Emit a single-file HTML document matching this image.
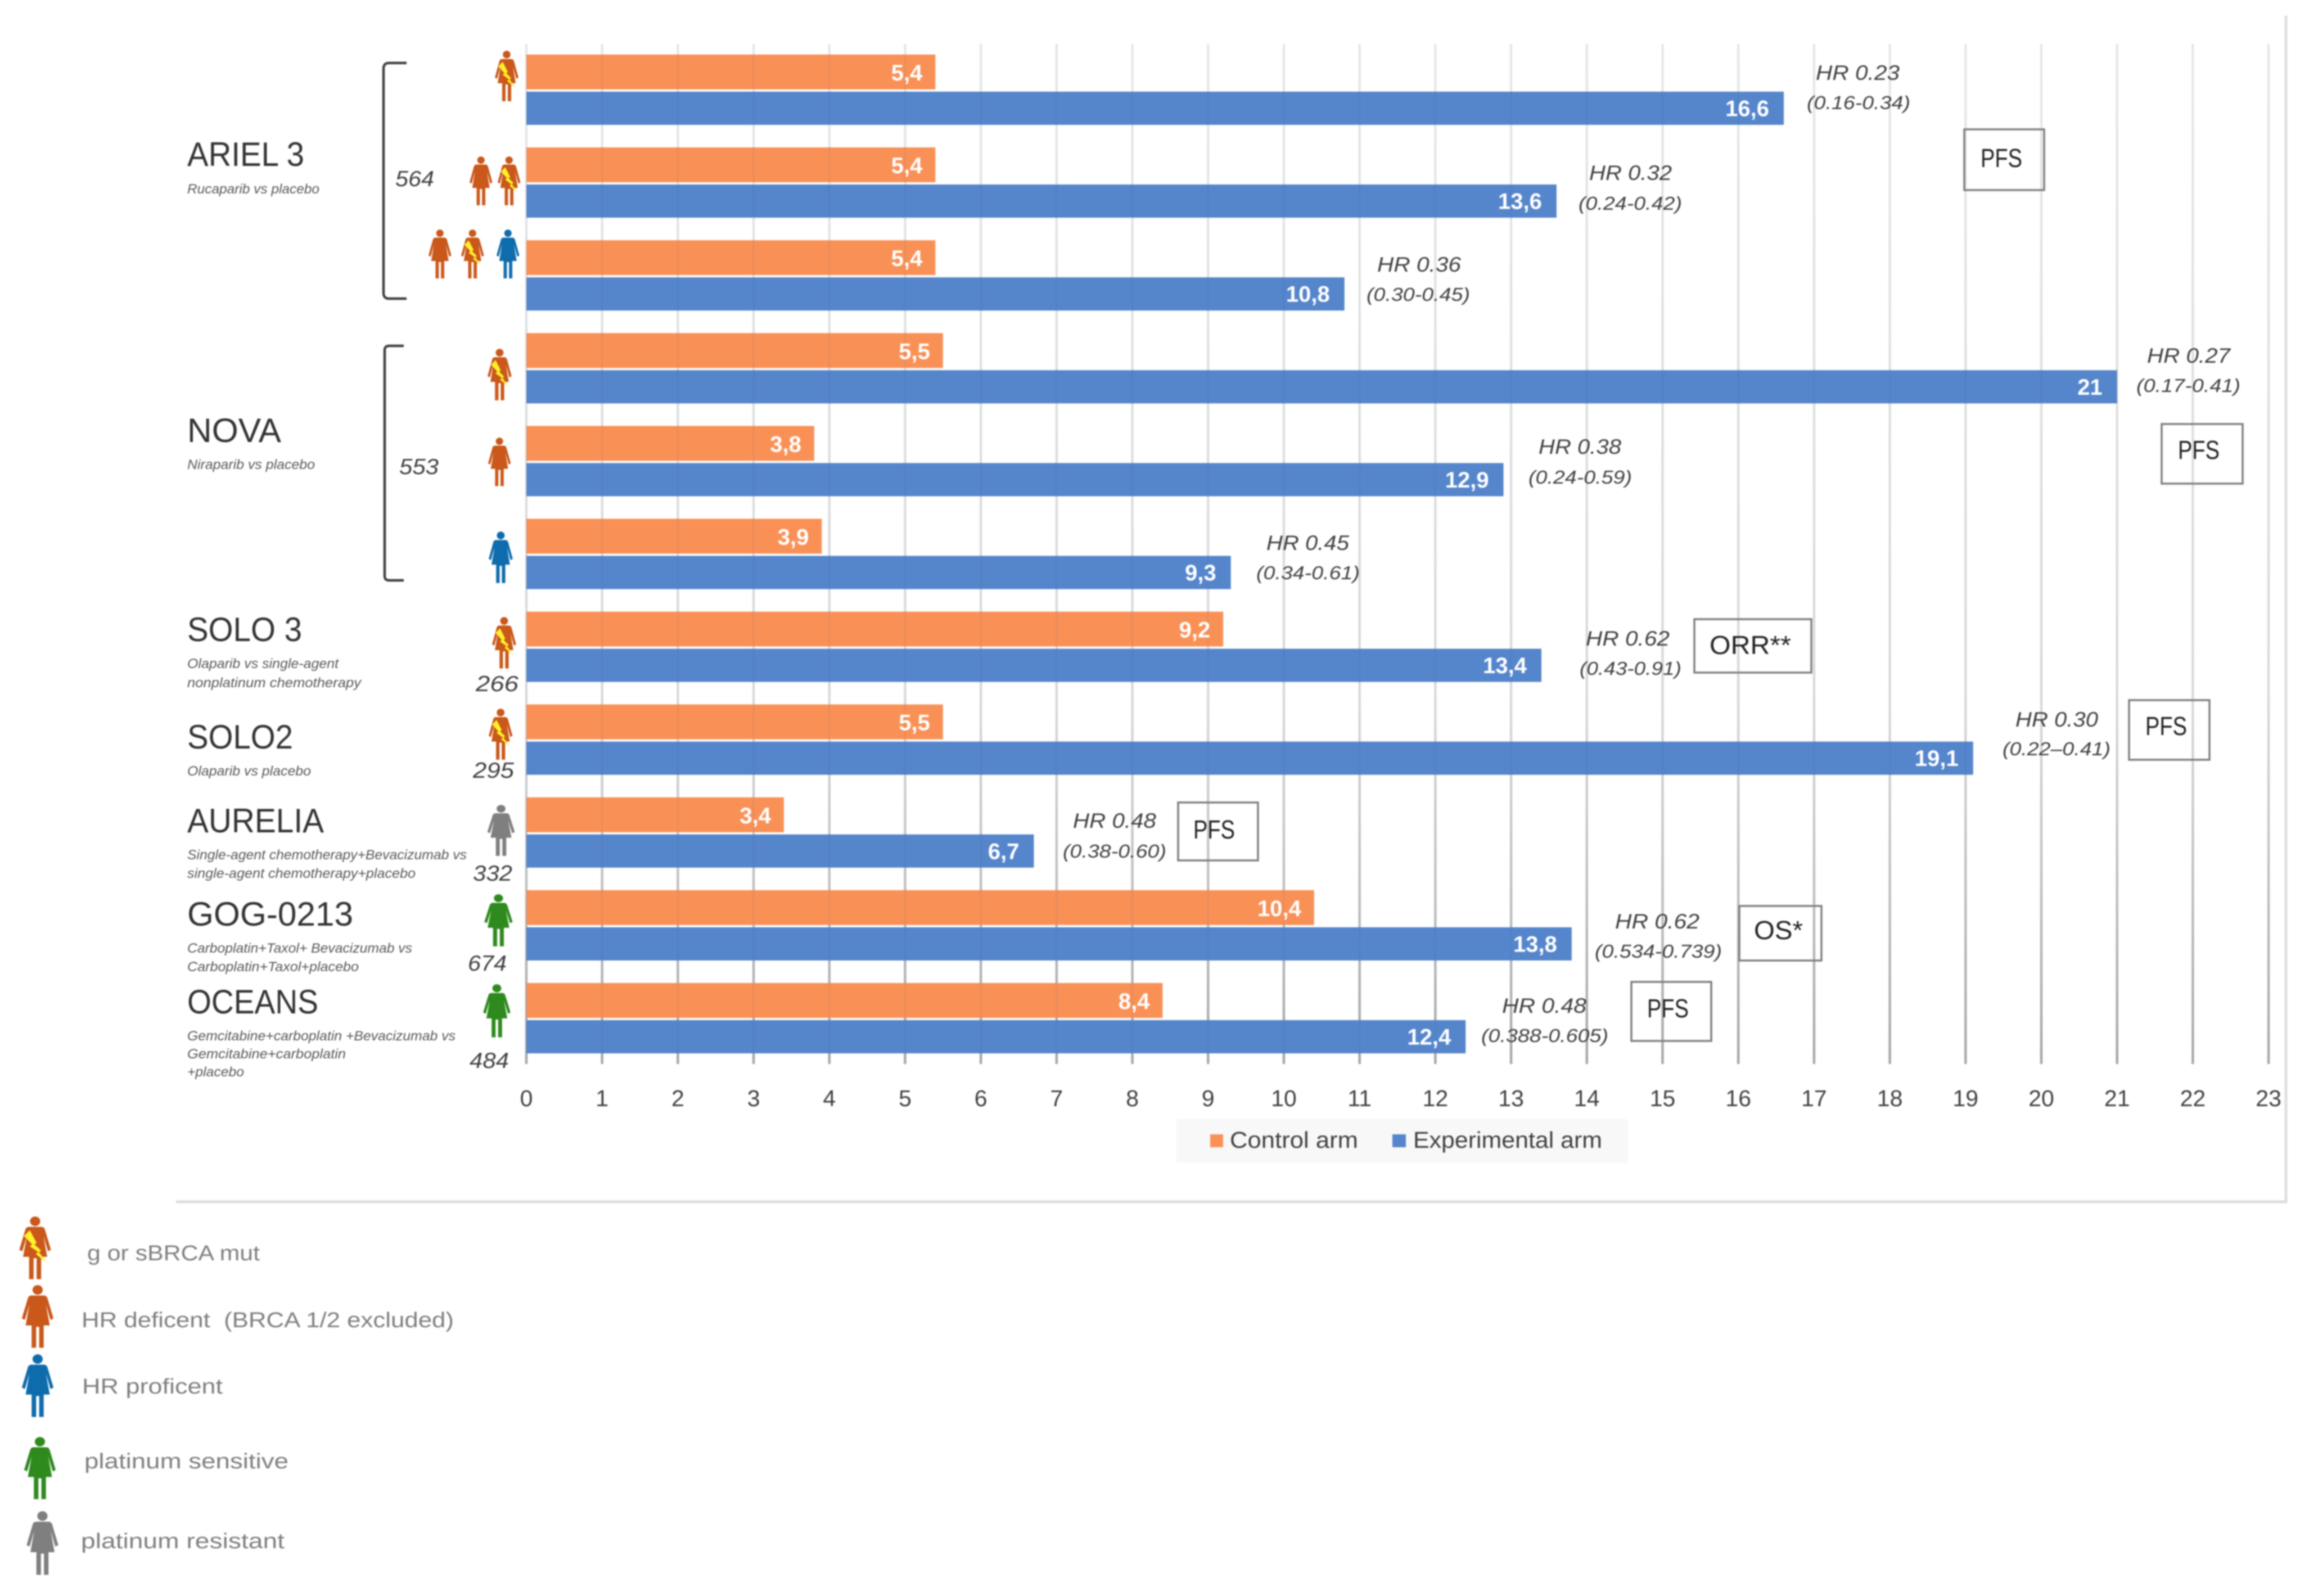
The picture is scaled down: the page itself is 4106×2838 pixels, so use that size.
<!DOCTYPE html>
<html lang="en">
<head>
<meta charset="utf-8">
<title>PARP inhibitor and bevacizumab trials chart</title>
<style>
html,body{margin:0;padding:0;background:#fff;}
svg{display:block;filter:blur(1.2px);}
text{font-family:"Liberation Sans",sans-serif;}
.trial{font-size:60px;fill:#333;}
.sub{font-size:24px;font-style:italic;fill:#595959;}
.n{font-size:39px;font-style:italic;fill:#404040;}
.hr{font-size:37px;font-style:italic;fill:#404040;}
.ci{font-size:33px;font-style:italic;fill:#404040;}
.box{fill:none;stroke:#7f7f7f;stroke-width:3.5;}
.endpoint{font-size:46px;fill:#222;}
.key{font-size:38px;fill:#7f7f7f;}
.tick{font-size:41px;fill:#404040;text-anchor:middle;}
.legend-text{font-size:41px;fill:#404040;}
.bar-value{font-size:40px;font-weight:bold;fill:#fff;text-anchor:end;}
</style>
</head>
<body>
<svg id="chart" xmlns="http://www.w3.org/2000/svg" width="4106" height="2838" viewBox="0 0 4106 2838">
<defs>
  <linearGradient id="grid-gradient" gradientUnits="userSpaceOnUse" x1="0" y1="78" x2="0" y2="1892">
    <stop offset="0" stop-color="#f2f2f2"/>
    <stop offset="0.65" stop-color="#e2e2e2"/>
    <stop offset="1" stop-color="#adadad"/>
  </linearGradient>
  <g id="woman">
    <circle cx="22" cy="7" r="6.8"/>
    <path d="M14 15 L30 15 Q34 15 35 19 L43 48 L39 50 L33 28 L38 58 L30 58 L30 90 L24 90 L24 60 L20 60 L20 90 L14 90 L14 58 L6 58 L11 28 L5 50 L1 48 L9 19 Q10 15 14 15 Z"/>
  </g>
  <g id="woman-brca">
    <use href="#woman"/>
    <polygon points="7,28 15,20 24,38 21,40 30,49 27,51 38,67 23,54 26,51 15,43 18,40" style="fill:#fff22a"/>
  </g>
</defs>

<rect x="0" y="0" width="4106" height="2838" fill="#ffffff"/>
<line x1="4065" y1="28" x2="4065" y2="2139" stroke="#dfdfdf" stroke-width="5"/>
<line x1="313" y1="2137" x2="4067" y2="2137" stroke="#dddddd" stroke-width="5"/>

<g id="grid-under"></g>
<g id="bars"></g>
<g id="grid-over"></g>
<g id="bar-values"></g>
<g id="ticks"></g>

<!-- trial labels -->
<text class="trial" x="333" y="295" textLength="208" lengthAdjust="spacingAndGlyphs">ARIEL 3</text>
<text class="sub" x="333" y="344" textLength="235" lengthAdjust="spacingAndGlyphs">Rucaparib vs placebo</text>
<text class="trial" x="333" y="786" textLength="167" lengthAdjust="spacingAndGlyphs">NOVA</text>
<text class="sub" x="333" y="834" textLength="227" lengthAdjust="spacingAndGlyphs">Niraparib vs placebo</text>
<text class="trial" x="333" y="1140" textLength="204" lengthAdjust="spacingAndGlyphs">SOLO 3</text>
<text class="sub" x="333" y="1188" textLength="269" lengthAdjust="spacingAndGlyphs">Olaparib vs single-agent</text>
<text class="sub" x="333" y="1222" textLength="309" lengthAdjust="spacingAndGlyphs">nonplatinum chemotherapy</text>
<text class="trial" x="333" y="1331" textLength="188" lengthAdjust="spacingAndGlyphs">SOLO2</text>
<text class="sub" x="333" y="1379" textLength="220" lengthAdjust="spacingAndGlyphs">Olaparib vs placebo</text>
<text class="trial" x="333" y="1480" textLength="243" lengthAdjust="spacingAndGlyphs">AURELIA</text>
<text class="sub" x="333" y="1528" textLength="497" lengthAdjust="spacingAndGlyphs">Single-agent chemotherapy+Bevacizumab vs</text>
<text class="sub" x="333" y="1561" textLength="406" lengthAdjust="spacingAndGlyphs">single-agent chemotherapy+placebo</text>
<text class="trial" x="333" y="1646" textLength="295" lengthAdjust="spacingAndGlyphs">GOG-0213</text>
<text class="sub" x="333" y="1694" textLength="400" lengthAdjust="spacingAndGlyphs">Carboplatin+Taxol+ Bevacizumab vs</text>
<text class="sub" x="333" y="1727" textLength="305" lengthAdjust="spacingAndGlyphs">Carboplatin+Taxol+placebo</text>
<text class="trial" x="333" y="1802" textLength="233" lengthAdjust="spacingAndGlyphs">OCEANS</text>
<text class="sub" x="333" y="1850" textLength="477" lengthAdjust="spacingAndGlyphs">Gemcitabine+carboplatin +Bevacizumab vs</text>
<text class="sub" x="333" y="1882" textLength="282" lengthAdjust="spacingAndGlyphs">Gemcitabine+carboplatin</text>
<text class="sub" x="333" y="1914" textLength="101" lengthAdjust="spacingAndGlyphs">+placebo</text>

<!-- brackets and patient counts -->
<path d="M723 112 H692 Q682 112 682 122 V521 Q682 531 692 531 H723" fill="none" stroke="#404040" stroke-width="4.5"/>
<path d="M718 615 H692 Q684 615 684 623 V1024 Q684 1032 692 1032 H718" fill="none" stroke="#404040" stroke-width="4.5"/>
<text class="n" x="703" y="331" textLength="69" lengthAdjust="spacingAndGlyphs">564</text>
<text class="n" x="710" y="843" textLength="70" lengthAdjust="spacingAndGlyphs">553</text>
<text class="n" x="846" y="1229" textLength="76" lengthAdjust="spacingAndGlyphs">266</text>
<text class="n" x="841" y="1383" textLength="73" lengthAdjust="spacingAndGlyphs">295</text>
<text class="n" x="841" y="1566" textLength="70" lengthAdjust="spacingAndGlyphs">332</text>
<text class="n" x="832" y="1726" textLength="69" lengthAdjust="spacingAndGlyphs">674</text>
<text class="n" x="835" y="1899" textLength="70" lengthAdjust="spacingAndGlyphs">484</text>

<!-- row icons -->
<use href="#woman-brca" fill="#c9581a" transform="translate(879,90)"/>
<use href="#woman" fill="#c9581a" transform="translate(834,278) scale(.967)"/>
<use href="#woman-brca" fill="#c9581a" transform="translate(884,278) scale(.967)"/>
<use href="#woman" fill="#c9581a" transform="translate(761,408) scale(.967)"/>
<use href="#woman-brca" fill="#c9581a" transform="translate(819,408) scale(.967)"/>
<use href="#woman" fill="#0f6cac" transform="translate(882,408) scale(.967)"/>
<use href="#woman-brca" fill="#c9581a" transform="translate(866,620) scale(1.02)"/>
<use href="#woman" fill="#c9581a" transform="translate(867,778) scale(.96)"/>
<use href="#woman" fill="#0f6cac" transform="translate(868,945) scale(1.02)"/>
<use href="#woman-brca" fill="#c9581a" transform="translate(874,1097) scale(1.02)"/>
<use href="#woman-brca" fill="#c9581a" transform="translate(868,1260) scale(1.01)"/>
<use href="#woman" fill="#7f7f7f" transform="translate(865.5,1431) scale(1.16,1.01)"/>
<use href="#woman" fill="#2f8a1e" transform="translate(860,1590) scale(1.2,1.03)"/>
<use href="#woman" fill="#2f8a1e" transform="translate(858,1750) scale(1.16,1.05)"/>

<!-- hazard ratios -->
<text class="hr" x="3229" y="142" textLength="149" lengthAdjust="spacingAndGlyphs">HR 0.23</text>
<text class="ci" x="3213" y="194" textLength="184" lengthAdjust="spacingAndGlyphs">(0.16-0.34)</text>
<text class="hr" x="2826" y="320" textLength="147" lengthAdjust="spacingAndGlyphs">HR 0.32</text>
<text class="ci" x="2807" y="373" textLength="184" lengthAdjust="spacingAndGlyphs">(0.24-0.42)</text>
<text class="hr" x="2449" y="483" textLength="149" lengthAdjust="spacingAndGlyphs">HR 0.36</text>
<text class="ci" x="2430" y="535" textLength="184" lengthAdjust="spacingAndGlyphs">(0.30-0.45)</text>
<text class="hr" x="3818" y="645" textLength="148" lengthAdjust="spacingAndGlyphs">HR 0.27</text>
<text class="ci" x="3799" y="697" textLength="185" lengthAdjust="spacingAndGlyphs">(0.17-0.41)</text>
<text class="hr" x="2736" y="807" textLength="147" lengthAdjust="spacingAndGlyphs">HR 0.38</text>
<text class="ci" x="2718" y="860" textLength="184" lengthAdjust="spacingAndGlyphs">(0.24-0.59)</text>
<text class="hr" x="2252" y="978" textLength="147" lengthAdjust="spacingAndGlyphs">HR 0.45</text>
<text class="ci" x="2234" y="1030" textLength="184" lengthAdjust="spacingAndGlyphs">(0.34-0.61)</text>
<text class="hr" x="2820" y="1148" textLength="149" lengthAdjust="spacingAndGlyphs">HR 0.62</text>
<text class="ci" x="2809" y="1200" textLength="181" lengthAdjust="spacingAndGlyphs">(0.43-0.91)</text>
<text class="hr" x="3584" y="1292" textLength="147" lengthAdjust="spacingAndGlyphs">HR 0.30</text>
<text class="ci" x="3561" y="1343" textLength="192" lengthAdjust="spacingAndGlyphs">(0.22–0.41)</text>
<text class="hr" x="1908" y="1472" textLength="148" lengthAdjust="spacingAndGlyphs">HR 0.48</text>
<text class="ci" x="1890" y="1525" textLength="184" lengthAdjust="spacingAndGlyphs">(0.38-0.60)</text>
<text class="hr" x="2872" y="1651" textLength="150" lengthAdjust="spacingAndGlyphs">HR 0.62</text>
<text class="ci" x="2836" y="1703" textLength="226" lengthAdjust="spacingAndGlyphs">(0.534-0.739)</text>
<text class="hr" x="2671" y="1801" textLength="150" lengthAdjust="spacingAndGlyphs">HR 0.48</text>
<text class="ci" x="2634" y="1853" textLength="226" lengthAdjust="spacingAndGlyphs">(0.388-0.605)</text>

<!-- endpoint boxes -->
<rect class="box" x="3493" y="230" width="142" height="108"/>
<text class="endpoint" x="3522" y="297" textLength="74" lengthAdjust="spacingAndGlyphs">PFS</text>
<rect class="box" x="3844" y="754" width="144" height="106"/>
<text class="endpoint" x="3873" y="816" textLength="74" lengthAdjust="spacingAndGlyphs">PFS</text>
<rect class="box" x="3013" y="1101" width="208" height="95"/>
<text class="endpoint" x="3040" y="1163" textLength="145" lengthAdjust="spacingAndGlyphs">ORR**</text>
<rect class="box" x="3786" y="1245" width="143" height="106"/>
<text class="endpoint" x="3815" y="1307" textLength="74" lengthAdjust="spacingAndGlyphs">PFS</text>
<rect class="box" x="2095" y="1427" width="142" height="103"/>
<text class="endpoint" x="2122" y="1491" textLength="74" lengthAdjust="spacingAndGlyphs">PFS</text>
<rect class="box" x="3093" y="1611" width="146" height="97"/>
<text class="endpoint" x="3119" y="1670" textLength="87" lengthAdjust="spacingAndGlyphs">OS*</text>
<rect class="box" x="2901" y="1746" width="142" height="105"/>
<text class="endpoint" x="2929" y="1809" textLength="74" lengthAdjust="spacingAndGlyphs">PFS</text>

<!-- series legend -->
<rect x="2092" y="1990" width="803" height="78" fill="#f8f8f8"/>
<rect x="2152" y="2017" width="23" height="23" fill="#f99157"/>
<text class="legend-text" x="2187" y="2041" textLength="228" lengthAdjust="spacingAndGlyphs">Control arm</text>
<rect x="2476" y="2017" width="24" height="23" fill="#5585cb"/>
<text class="legend-text" x="2513" y="2041" textLength="336" lengthAdjust="spacingAndGlyphs">Experimental arm</text>

<!-- icon key -->
<use href="#woman-brca" fill="#c9581a" transform="translate(33,2163) scale(1.34,1.24)"/>
<text class="key" x="155" y="2241" textLength="307" lengthAdjust="spacingAndGlyphs">g or sBRCA mut</text>
<use href="#woman" fill="#c9581a" transform="translate(37.5,2285) scale(1.34,1.24)"/>
<text class="key" x="145" y="2360" textLength="662" lengthAdjust="spacingAndGlyphs" xml:space="preserve">HR deficent  (BRCA 1/2 excluded)</text>
<use href="#woman" fill="#0f6cac" transform="translate(37.5,2408) scale(1.34,1.24)"/>
<text class="key" x="146" y="2478" textLength="250" lengthAdjust="spacingAndGlyphs">HR proficent</text>
<use href="#woman" fill="#2f8a1e" transform="translate(41.5,2555) scale(1.34,1.23)"/>
<text class="key" x="150" y="2611" textLength="363" lengthAdjust="spacingAndGlyphs">platinum sensitive</text>
<use href="#woman" fill="#7f7f7f" transform="translate(46,2687) scale(1.34,1.26)"/>
<text class="key" x="144" y="2753" textLength="362" lengthAdjust="spacingAndGlyphs">platinum resistant</text>
</svg>

<script>
const rowNames = ['ariel-brca', 'ariel-hrd', 'ariel-all', 'nova-brca', 'nova-hrd', 'nova-hrp', 'solo-3', 'solo2', 'aurelia', 'gog-0213', 'oceans'];
const controlValues = [5.4, 5.4, 5.4, 5.5, 3.8, 3.9, 9.2, 5.5, 3.4, 10.4, 8.4];
const experimentalValues = [16.6, 13.6, 10.8, 21, 12.9, 9.3, 13.4, 19.1, 6.7, 13.8, 12.4];
const tickLabels = ['0', '1', '2', '3', '4', '5', '6', '7', '8', '9', '10', '11', '12', '13', '14', '15', '16', '17', '18', '19', '20', '21', '22', '23'];

const SVG_NS = 'http://www.w3.org/2000/svg';
const xAxis = function (v) { return 936 + 134.7 * v; };
const rowAxis = function (i) { return 97 + 165.1 * i; };
const CONTROL_H = 62;
const EXPERIMENTAL_H = 59;
const EXPERIMENTAL_OFFSET = 66;
const formatValue = function (v) { return String(v).replace('.', ','); };

function make(tag, parentId, attrs) {
  const el = document.createElementNS(SVG_NS, tag);
  Object.keys(attrs).forEach(function (k) { el.setAttribute(k, attrs[k]); });
  document.getElementById(parentId).appendChild(el);
  return el;
}

tickLabels.forEach(function (label) {
  const v = Number(label);
  const under = make('line', 'grid-under', { x1: xAxis(v), x2: xAxis(v), y1: 78, y2: 1892, stroke: 'url(#grid-gradient)', 'stroke-width': 4.5 });
  
  
  const over = make('line', 'grid-over', { x1: xAxis(v), x2: xAxis(v), y1: 78, y2: 1892, stroke: '#33507c', 'stroke-width': 3.5, opacity: 0.07 });
  
  
  const tick = make('text', 'ticks', { class: 'tick', x: xAxis(v), y: 1967 });
  
  
  tick.textContent = label;
});

rowNames.forEach(function (name, i) {
  const top = rowAxis(i);
  const expTop = top + EXPERIMENTAL_OFFSET;

  const controlBar = make('rect', 'bars', { x: xAxis(0), y: top, width: xAxis(controlValues[i]) - xAxis(0), height: CONTROL_H, fill: '#f99157' });
  
  

  const experimentalBar = make('rect', 'bars', { x: xAxis(0), y: expTop, width: xAxis(experimentalValues[i]) - xAxis(0), height: EXPERIMENTAL_H, fill: '#5585cb' });
  
  

  const controlLabel = make('text', 'bar-values', { class: 'bar-value', x: xAxis(controlValues[i]) - 23, y: top + CONTROL_H / 2 + 15 });
  
  
  controlLabel.textContent = formatValue(controlValues[i]);

  const experimentalLabel = make('text', 'bar-values', { class: 'bar-value', x: xAxis(experimentalValues[i]) - 26, y: expTop + EXPERIMENTAL_H / 2 + 14 });
  
  
  experimentalLabel.textContent = formatValue(experimentalValues[i]);
});
</script>
</body>
</html>
